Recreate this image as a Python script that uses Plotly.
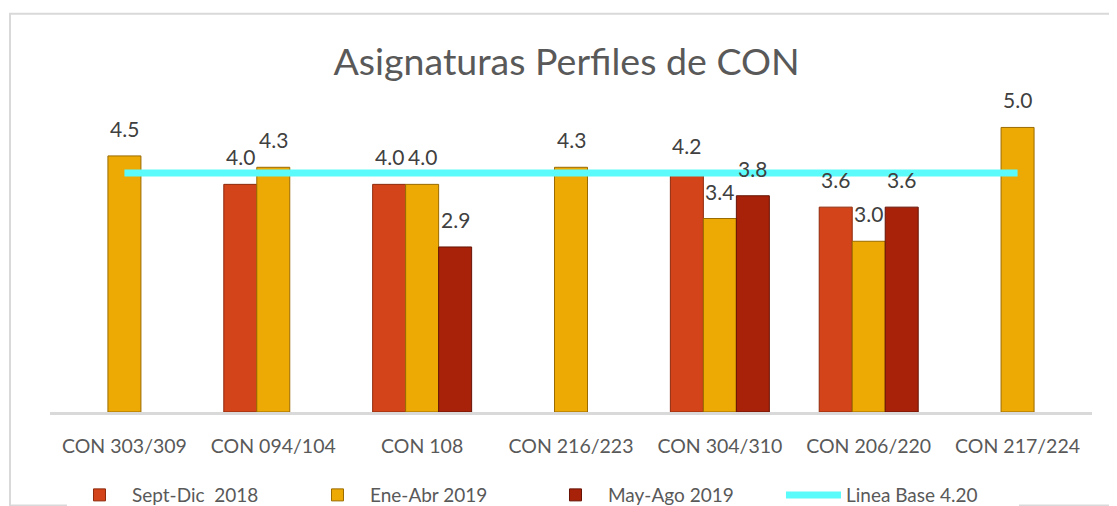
import plotly.graph_objects as go

categorias = ['CON 303/309', 'CON 094/104', 'CON 108', 'CON 216/223',
              'CON 304/310', 'CON 206/220', 'CON 217/224']
sept_dic_2018 = [None, 4.0, 4.0, None, 4.2, 3.6, None]
ene_abr_2019 = [4.5, 4.3, 4.0, 4.3, 3.4, 3.0, 5.0]
may_ago_2019 = [None, None, 2.9, None, 3.8, 3.6, None]
linea_base = [4.2] * len(categorias)

ANCHO, ALTO = 1117, 506
M_IZQ, M_DER = 42, 33
BARGAP = 0.335
ancho_barra = (ANCHO - M_IZQ - M_DER) / len(categorias) * (1 - BARGAP) / 3

fig = go.Figure()

# series de barras
series = [
    ('Sept-Dic  2018', sept_dic_2018, '#D4441A', '#8E2A0C'),
    ('Ene-Abr 2019', ene_abr_2019, '#EDAA05', '#9A6B00'),
    ('May-Ago 2019', may_ago_2019, '#A82209', '#661305'),
]
for k, (nombre, valores, color, borde) in enumerate(series):
    fig.add_trace(go.Bar(
        x=categorias, y=valores, name=nombre,
        marker=dict(color=color, line=dict(color=borde, width=1)),
    ))
    # etiquetas de datos encima de cada barra
    for cat, v in zip(categorias, valores):
        if v is None:
            continue
        fig.add_annotation(
            x=cat, y=v, text=f'{v:.1f}', showarrow=False,
            xanchor='center', yanchor='bottom',
            xshift=(k - 1) * ancho_barra, yshift=13,
            font=dict(family='Lato', size=21, color='#404040'),
        )

# linea base
fig.add_trace(go.Scatter(
    x=categorias, y=linea_base, name='Linea Base 4.20', mode='lines',
    line=dict(color='#5CFBFB', width=7),
))

fig.add_shape(type='rect', xref='paper', yref='paper',
              x0=-0.0384, x1=1.05, y0=-0.2986, y1=1.2727,
              line=dict(color='#D9D9D9', width=2), layer='below')

fig.update_layout(
    width=ANCHO, height=ALTO,
    margin=dict(l=M_IZQ, r=M_DER, t=90.5, b=102),
    paper_bgcolor='white', plot_bgcolor='white',
    barmode='group', bargap=BARGAP, bargroupgap=0,
    title=dict(text='Asignaturas Perfiles de CON', x=0.5, xanchor='center',
               y=0.893, yanchor='middle',
               font=dict(family='Lato', size=37.5, color='#595959')),
    font=dict(family='Lato', color='#595959'),
    xaxis=dict(showline=True, linecolor='#D9D9D9', linewidth=3,
               tickfont=dict(size=19.5, color='#595959'), ticks='',
               ticklabelstandoff=15, showgrid=False),
    yaxis=dict(range=[0, 5.5], visible=False, showgrid=False),
    showlegend=True,
    legend=dict(orientation='h', x=0.0163, xanchor='left',
                yref='container', y=0.0375, yanchor='middle',
                font=dict(size=19, color='#595959'),
                itemwidth=55, entrywidth=168, traceorder='normal'),
)

fig.write_html('out.html')
